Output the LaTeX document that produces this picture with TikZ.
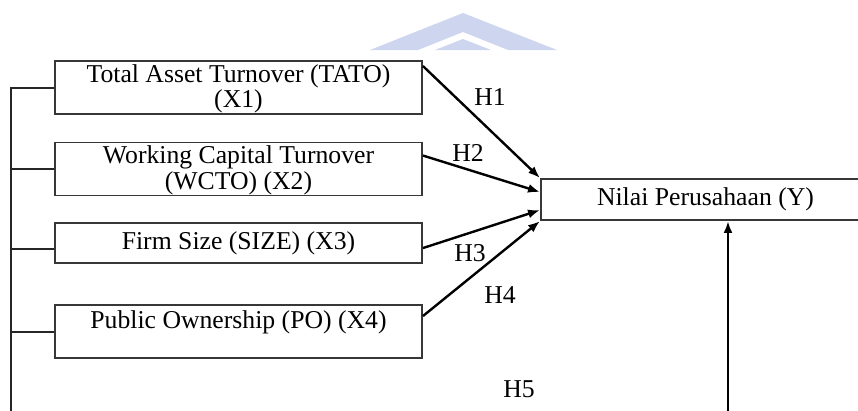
\documentclass[tikz,border=0pt]{standalone}
\usepackage{fontspec}
\setmainfont{Liberation Serif}
\usetikzlibrary{calc,arrows.meta}
\definecolor{wm}{RGB}{206,213,238}
\definecolor{boxline}{RGB}{55,55,55}
\begin{document}
\begin{tikzpicture}[x=1pt,y=-1pt,
  every node/.style={font=\fontsize{25.7}{25.5}\selectfont, inner sep=0pt},
  varbox/.style={draw=boxline, line width=1.9pt, minimum width=367pt, minimum height=53pt},
  boxtext/.style={align=center},
  link/.style={line width=2pt, black!85},
  hyp/.style={line width=2.4pt, -{Latex[length=12pt,width=9pt]}},
  lab/.style={}]
\useasboundingbox (0,0) rectangle (858,410);
\clip (0,0) rectangle (858,410);
% watermark
\fill[wm] (463,13) -- (370,50) -- (418,50) -- (463,32) -- (508,50) -- (557,50) -- cycle;
\fill[wm] (463,39) -- (435,50) -- (491,50) -- cycle;
% boxes
\node[varbox] (b1) at (238.5,87.5) {};
\node[boxtext] (t1) at ($(b1)+(0,1.5)$) {Total Asset Turnover (TATO)\\(X1)};
\node[varbox] (b2) at (238.5,169) {};
\node[boxtext] (t2) at ($(b2)+(0,1.5)$) {Working Capital Turnover\\(WCTO) (X2)};
\node[varbox, minimum height=40pt] (b3) at (238.5,243) {Firm Size (SIZE) (X3)};
\node[varbox] (b4) at (238.5,331.5) {};
\node (t4) at ($(b4)+(0,-9.5)$) {Public Ownership (PO) (X4)};
\node[draw=boxline, line width=1.9pt, minimum width=329pt, minimum height=41pt] (Y) at (705.5,199.5) {Nilai Perusahaan (Y)};
% left bus
\coordinate (Lx) at (11,0);
\coordinate (Lbot) at (11,412);
\coordinate (bot) at (728,412);
\draw[link] (b1.west) -- (b1.west -| Lx) -- (Lbot);
\draw[link] (b2.west) -- (b2.west -| Lx);
\draw[link] ($(b3.west)+(0,6)$) -- ($(b3.west -| Lx)+(0,6)$);
\draw[link] (b4.west) -- (b4.west -| Lx);
% hypotheses
\draw[hyp] ($(b1.north east)+(0,6)$) -- (Y.north west);
\draw[hyp] ($(b2.north east)+(0,14)$) -- ($(Y.north west)+(0,14)$);
\draw[hyp] ($(b3.north east)+(0,26)$) -- ($(Y.north west)+(0,32)$);
\draw[hyp] ($(b4.north east)+(0,12)$) -- ($(Y.north west)+(0,43)$);
\draw[hyp] (bot) -- (Y.south -| bot);
% labels
\node[lab] (h1) at (490,97) {H1};
\node[lab] (h2) at (468,153) {H2};
\node[lab] (h3) at (470,253) {H3};
\node[lab] (h4) at (500,295) {H4};
\node[lab] (h5) at (519,389) {H5};
\end{tikzpicture}
\end{document}
